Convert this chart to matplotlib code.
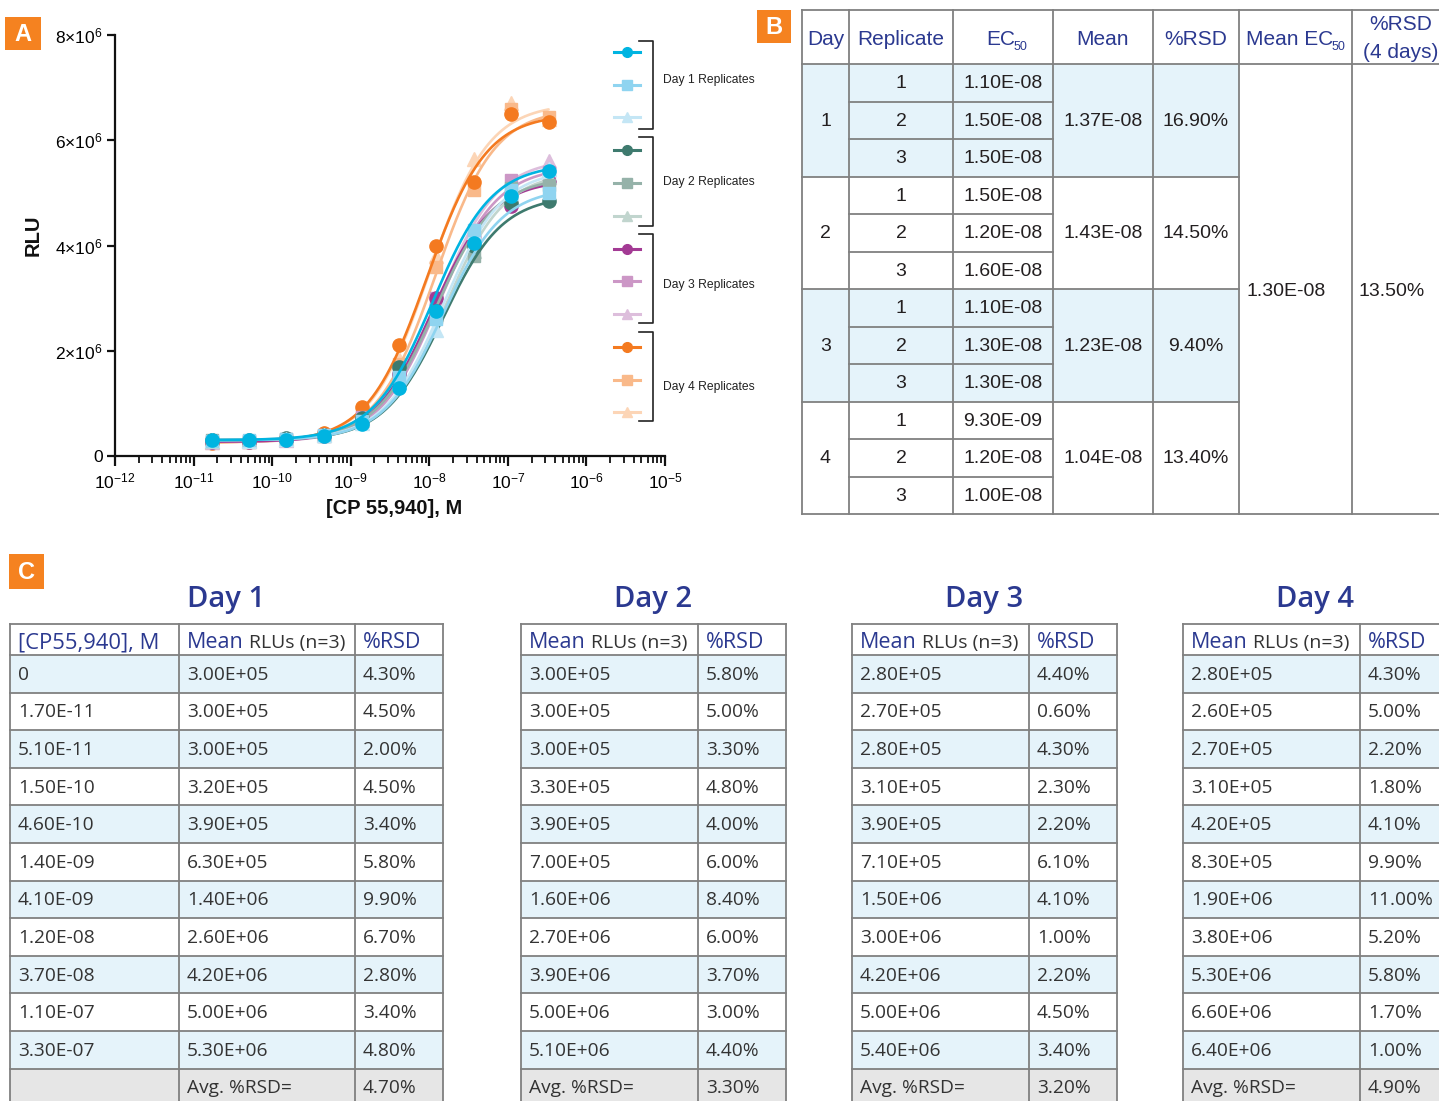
import numpy as np
import matplotlib
matplotlib.use('Agg')
import matplotlib.pyplot as plt
from matplotlib.patches import Rectangle
from matplotlib.lines import Line2D
import matplotlib.ticker as mticker

plt.rcParams['mathtext.fontset'] = 'custom'
plt.rcParams['mathtext.rm'] = 'Liberation Sans'
plt.rcParams['mathtext.it'] = 'Liberation Sans:italic'
plt.rcParams['mathtext.bf'] = 'Liberation Sans:bold'
plt.rcParams['font.family'] = ['Liberation Sans', 'DejaVu Sans']

W, H = 1439, 1101

# ---------------- data ----------------
conc = [1.7e-11, 5.1e-11, 1.5e-10, 4.6e-10, 1.4e-9, 4.1e-9, 1.2e-8, 3.7e-8, 1.1e-7, 3.3e-7]

day1_rlu = [[3.1e5, 3.0e5, 3.1e5, 3.8e5, 6.0e5, 1.30e6, 2.75e6, 4.05e6, 4.95e6, 5.42e6],
            [2.9e5, 3.1e5, 3.3e5, 4.0e5, 6.7e5, 1.50e6, 2.60e6, 4.30e6, 5.05e6, 5.00e6],
            [3.0e5, 2.9e5, 3.2e5, 3.9e5, 6.2e5, 1.40e6, 2.40e6, 4.25e6, 5.00e6, 5.45e6]]
day2_rlu = [[3.0e5, 3.1e5, 3.4e5, 4.0e5, 7.3e5, 1.70e6, 2.75e6, 4.00e6, 4.80e6, 4.85e6],
            [3.1e5, 2.9e5, 3.2e5, 3.8e5, 6.8e5, 1.55e6, 2.65e6, 3.80e6, 5.10e6, 5.15e6],
            [2.9e5, 3.0e5, 3.3e5, 3.9e5, 6.9e5, 1.55e6, 2.70e6, 3.90e6, 5.10e6, 5.30e6]]
day3_rlu = [[2.7e5, 2.7e5, 3.0e5, 3.8e5, 6.7e5, 1.55e6, 3.00e6, 4.10e6, 4.75e6, 5.20e6],
            [2.7e5, 2.9e5, 3.2e5, 4.0e5, 7.4e5, 1.45e6, 3.00e6, 4.20e6, 5.25e6, 5.40e6],
            [2.7e5, 2.8e5, 3.1e5, 3.9e5, 7.2e5, 1.50e6, 3.00e6, 4.30e6, 5.00e6, 5.60e6]]
day4_rlu = [[2.5e5, 2.6e5, 3.0e5, 4.3e5, 9.3e5, 2.10e6, 4.00e6, 5.20e6, 6.50e6, 6.35e6],
            [2.6e5, 2.7e5, 3.1e5, 4.0e5, 7.8e5, 1.75e6, 3.60e6, 5.05e6, 6.60e6, 6.45e6],
            [2.7e5, 2.8e5, 3.2e5, 4.3e5, 7.8e5, 1.85e6, 3.80e6, 5.65e6, 6.70e6, 6.40e6]]

# 4PL fit parameters (EC50 from table B)
ec50_reps = [[1.10e-8, 1.50e-8, 1.50e-8],
             [1.50e-8, 1.20e-8, 1.60e-8],
             [1.10e-8, 1.30e-8, 1.30e-8],
             [9.30e-9, 1.20e-8, 1.00e-8]]
fit_top = [[5.55e6, 5.10e6, 5.45e6],
           [4.95e6, 5.30e6, 5.40e6],
           [5.25e6, 5.50e6, 5.65e6],
           [6.50e6, 6.60e6, 6.70e6]]
fit_bottom = [3.0e5, 3.0e5, 2.7e5, 2.6e5]
fit_hill = 1.15

ec50_day_mean = [1.37e-8, 1.43e-8, 1.23e-8, 1.04e-8]
ec50_day_rsd = [16.90, 14.50, 9.40, 13.40]
ec50_overall_mean = 1.30e-8
ec50_overall_rsd = 13.50

table_conc = [0, 1.7e-11, 5.1e-11, 1.5e-10, 4.6e-10, 1.4e-9, 4.1e-9, 1.2e-8, 3.7e-8, 1.1e-7, 3.3e-7]
mean_rlu = [[3.00e5, 3.00e5, 3.00e5, 3.20e5, 3.90e5, 6.30e5, 1.40e6, 2.60e6, 4.20e6, 5.00e6, 5.30e6],
            [3.00e5, 3.00e5, 3.00e5, 3.30e5, 3.90e5, 7.00e5, 1.60e6, 2.70e6, 3.90e6, 5.00e6, 5.10e6],
            [2.80e5, 2.70e5, 2.80e5, 3.10e5, 3.90e5, 7.10e5, 1.50e6, 3.00e6, 4.20e6, 5.00e6, 5.40e6],
            [2.80e5, 2.60e5, 2.70e5, 3.10e5, 4.20e5, 8.30e5, 1.90e6, 3.80e6, 5.30e6, 6.60e6, 6.40e6]]
rsd_rlu = [[4.30, 4.50, 2.00, 4.50, 3.40, 5.80, 9.90, 6.70, 2.80, 3.40, 4.80],
           [5.80, 5.00, 3.30, 4.80, 4.00, 6.00, 8.40, 6.00, 3.70, 3.00, 4.40],
           [4.40, 0.60, 4.30, 2.30, 2.20, 6.10, 4.10, 1.00, 2.20, 4.50, 3.40],
           [4.30, 5.00, 2.20, 1.80, 4.10, 9.90, 11.00, 5.20, 5.80, 1.70, 1.00]]
avg_rsd = [4.70, 3.30, 3.20, 4.90]

day_names = ['Day 1', 'Day 2', 'Day 3', 'Day 4']
legend_labels = ['Day 1 Replicates', 'Day 2 Replicates', 'Day 3 Replicates', 'Day 4 Replicates']

colors = [['#00b4e1', '#8fd4f0', '#c4e6f5'],
          ['#3e7a6e', '#95b2a9', '#c1d5ce'],
          ['#a33a94', '#cc97c6', '#ddbedc'],
          ['#f47a20', '#f9b98a', '#fcd5b6']]
markers = ['o', 's', '^']
msizes = [9.5, 8.5, 9.5]

all_rlu = [day1_rlu, day2_rlu, day3_rlu, day4_rlu]

NAVY = '#2b3990'
TXT = '#231f20'
GRID = '#808080'
SHADE = '#e5f3fa'
ORANGE = '#f58220'

fig = plt.figure(figsize=(W / 100, H / 100), dpi=100)
renderer = fig.canvas.get_renderer()

# overlay axes in pixel coordinates
ov = fig.add_axes([0, 0, 1, 1])
ov.set_xlim(0, W)
ov.set_ylim(H, 0)
ov.axis('off')
ov.set_zorder(0)

# ---------------- Panel A plot ----------------
ax = fig.add_axes([115 / W, 1 - 456 / H, 550 / W, 421 / H])
ax.set_zorder(2)
ax.patch.set_alpha(0)
xs = np.logspace(np.log10(conc[0]), np.log10(conc[-1]), 300)
for d in reversed(range(4)):
    for r in reversed(range(3)):
        c = colors[d][r]
        b, t, e = fit_bottom[d], fit_top[d][r], ec50_reps[d][r]
        ys = b + (t - b) / (1 + (e / xs) ** fit_hill)
        ax.plot(xs, ys, color=c, lw=1.9, solid_capstyle='round')
        ax.plot(conc, all_rlu[d][r], ls='none', marker=markers[r], ms=msizes[r],
                color=c, mec=c, clip_on=False)

ax.set_xscale('log')
ax.set_xlim(1e-12, 1e-5)
ax.set_ylim(0, 8e6)
for s in ['top', 'right']:
    ax.spines[s].set_visible(False)
for s in ['left', 'bottom']:
    ax.spines[s].set_linewidth(1.6)
    ax.spines[s].set_color('#111111')
ax.xaxis.set_minor_locator(mticker.LogLocator(base=10, subs=np.arange(2, 10), numticks=20))
ax.xaxis.set_minor_formatter(mticker.NullFormatter())
xt = [10.0 ** k for k in range(-12, -4)]
ax.set_xticks(xt)
ax.set_xticklabels([r'$\mathregular{10^{%d}}$' % k for k in range(-12, -4)])
yt = [0, 2e6, 4e6, 6e6, 8e6]
ax.set_yticks(yt)
ax.set_yticklabels(['0'] + [r'$\mathregular{%d×10^{6}}$' % int(v / 1e6) for v in yt[1:]])
ax.tick_params(axis='x', which='major', length=7, width=1.6, direction='out', labelsize=12.5, pad=4, color='#111111')
ax.tick_params(axis='x', which='minor', length=5, width=1.3, direction='out', color='#111111')
ax.tick_params(axis='y', which='major', length=6, width=1.6, direction='out', labelsize=12.5, pad=3, color='#111111')

ov.text(33, 235, 'RLU', rotation=90, ha='center', va='center', fontsize=14.5, fontweight='bold', color='#111111')
ov.text(394, 509, '[CP 55,940], M', ha='center', va='center', fontsize=14.5, fontweight='bold', color='#111111')

# custom legend
for d in range(4):
    for r in range(3):
        k = d * 3 + r
        y = 51.7 + k * 32.8
        c = colors[d][r]
        ov.add_line(Line2D([614, 640], [y, y], color=c, lw=2.2))
        ov.plot([627], [y], marker=markers[r], ms=7, color=c, mec=c)
br_top = [40.7, 136.7, 234, 331.7]
br_bot = [129.3, 226, 323, 420.7]
txt_y = [80, 181.7, 285, 386.7]
for d in range(4):
    ov.add_line(Line2D([639, 653, 653, 639], [br_top[d], br_top[d], br_bot[d], br_bot[d]],
                       color='#222222', lw=1.2))
    ov.text(663, txt_y[d], legend_labels[d], ha='left', va='center', fontsize=8.7, color='#222222')

# panel labels
def panel_label(x0, y0, x1, y1, s):
    ov.add_patch(Rectangle((x0, y0), x1 - x0, y1 - y0, fc=ORANGE, ec='none'))
    ov.text((x0 + x1) / 2, (y0 + y1) / 2 + 1, s, ha='center', va='center', color='white',
            fontsize=17, fontweight='bold')

panel_label(5, 17, 41, 50, 'A')
panel_label(757, 10, 791, 43, 'B')
panel_label(9, 554, 44, 589, 'C')

# ---------------- Panel B table ----------------
bx = [802, 849, 953, 1053, 1153, 1239, 1352, 1460]
top_b, head_b = 10, 64
rh = 37.5
bot_b = head_b + 12 * rh
LW = 1.3

for d in (0, 2):
    ov.add_patch(Rectangle((bx[0], head_b + d * 3 * rh), bx[5] - bx[0], 3 * rh, fc=SHADE, ec='none'))

def hline(y, x0, x1):
    ov.add_line(Line2D([x0, x1], [y, y], color=GRID, lw=LW))

def vline(x, y0, y1):
    ov.add_line(Line2D([x, x], [y0, y1], color=GRID, lw=LW))

hline(top_b, bx[0], W)
hline(head_b, bx[0], W)
hline(bot_b, bx[0], W)
for x in bx[:-1]:
    vline(x, top_b, bot_b)
for k in range(1, 4):
    hline(head_b + 3 * k * rh, bx[0], bx[5])
for i in range(1, 12):
    if i % 3:
        hline(head_b + i * rh, bx[1], bx[3])

hfs = 15
hyb = 45  # header baseline


def ec50_header(x, prefix):
    t = ov.text(x, hyb, prefix, ha='left', va='baseline', fontsize=hfs, color=NAVY)
    bb = t.get_window_extent(renderer)
    ov.text(bb.x1 - 1.5, hyb + 5, '50', ha='left', va='baseline', fontsize=9, color=NAVY)


ov.text(825.5, hyb, 'Day', ha='center', va='baseline', fontsize=hfs, color=NAVY)
ov.text(901, hyb, 'Replicate', ha='center', va='baseline', fontsize=hfs, color=NAVY)
ec50_header(986, 'EC')
ov.text(1103, hyb, 'Mean', ha='center', va='baseline', fontsize=hfs, color=NAVY)
ov.text(1196, hyb, '%RSD', ha='center', va='baseline', fontsize=hfs, color=NAVY)
ec50_header(1246, 'Mean EC')
ov.text(1401, 25, '%RSD', ha='center', va='center', fontsize=hfs, color=NAVY)
ov.text(1401, 52, '(4 days)', ha='center', va='center', fontsize=hfs, color=NAVY)

bfs = 14
for d in range(4):
    yc = head_b + (3 * d + 1.5) * rh + 1
    ov.text(825.5, yc, str(d + 1), ha='center', va='center', fontsize=bfs, color=TXT)
    ov.text(1103, yc, f'{ec50_day_mean[d]:.2E}', ha='center', va='center', fontsize=bfs, color=TXT)
    ov.text(1196, yc, f'{ec50_day_rsd[d]:.2f}%', ha='center', va='center', fontsize=bfs, color=TXT)
    for r in range(3):
        y = head_b + (3 * d + r + 0.5) * rh + 1
        ov.text(901, y, str(r + 1), ha='center', va='center', fontsize=bfs, color=TXT)
        ov.text(1003, y, f'{ec50_reps[d][r]:.2E}', ha='center', va='center', fontsize=bfs, color=TXT)
ov.text(1246, head_b + 6 * rh + 2, f'{ec50_overall_mean:.2E}', ha='left', va='center', fontsize=bfs, color=TXT)
ov.text(1359, head_b + 6 * rh + 2, f'{ec50_overall_rsd:.2f}%', ha='left', va='center', fontsize=bfs, color=TXT)

# ---------------- Panel C tables ----------------
CF = ['Open Sans', 'DejaVu Sans']
tables_x = [[10, 179, 355, 443], [521, 698, 786], [852, 1029, 1117], [1183, 1360, 1448]]
c_top, c_head = 624, 655
crh = 37.6
GRAY = '#e6e6e6'
cfs = 13.8
BODY = '#333333'
for d in range(4):
    xb = tables_x[d]
    x0, x1 = xb[0], xb[-1]
    ov.text((x0 + x1) / 2, 599, day_names[d], ha='center', va='center', fontsize=21,
            color=NAVY, family=CF, fontweight='semibold')
    # shading
    for i in range(12):
        y0 = c_head + i * crh
        if i == 11:
            ov.add_patch(Rectangle((x0, y0), x1 - x0, crh, fc=GRAY, ec='none'))
        elif i % 2 == 0:
            ov.add_patch(Rectangle((x0, y0), x1 - x0, crh, fc=SHADE, ec='none'))
    ybot = c_head + 12 * crh
    hline(c_top, x0, x1)
    for i in range(13):
        hline(c_head + i * crh, x0, x1)
    for x in xb:
        vline(x, c_top, ybot)
    # header
    chb = 648
    cols = xb[:-1]
    if d == 0:
        ov.text(cols[0] + 8, chb, '[CP55,940], M', ha='left', va='baseline', fontsize=15.8, color=NAVY, family=CF)
        mc, rc = cols[1], cols[2]
    else:
        mc, rc = cols[0], cols[1]
    tm = ov.text(mc + 8, chb, 'Mean', ha='left', va='baseline', fontsize=15.5, color=NAVY, family=CF)
    bb = tm.get_window_extent(renderer)
    ov.text(bb.x1 + 5, chb, 'RLUs (n=3)', ha='left', va='baseline', fontsize=14.0, color=BODY, family=CF)
    ov.text(rc + 8, chb, '%RSD', ha='left', va='baseline', fontsize=15.5, color=NAVY, family=CF)
    for i in range(11):
        yc = c_head + (i + 0.5) * crh + 1
        if d == 0:
            cv = table_conc[i]
            ov.text(cols[0] + 8, yc, '0' if cv == 0 else f'{cv:.2E}', ha='left', va='center',
                    fontsize=cfs, color=BODY, family=CF)
        ov.text(mc + 8, yc, f'{mean_rlu[d][i]:.2E}', ha='left', va='center', fontsize=cfs,
                color=BODY, family=CF)
        ov.text(rc + 8, yc, f'{rsd_rlu[d][i]:.2f}%', ha='left', va='center', fontsize=cfs,
                color=BODY, family=CF)
    yc = c_head + 11.5 * crh + 1
    ov.text(mc + 8, yc, 'Avg. %RSD=', ha='left', va='center', fontsize=cfs, color=BODY, family=CF)
    ov.text(rc + 8, yc, f'{avg_rsd[d]:.2f}%', ha='left', va='center', fontsize=cfs, color=BODY, family=CF)

fig.savefig('out.png', dpi=100)
